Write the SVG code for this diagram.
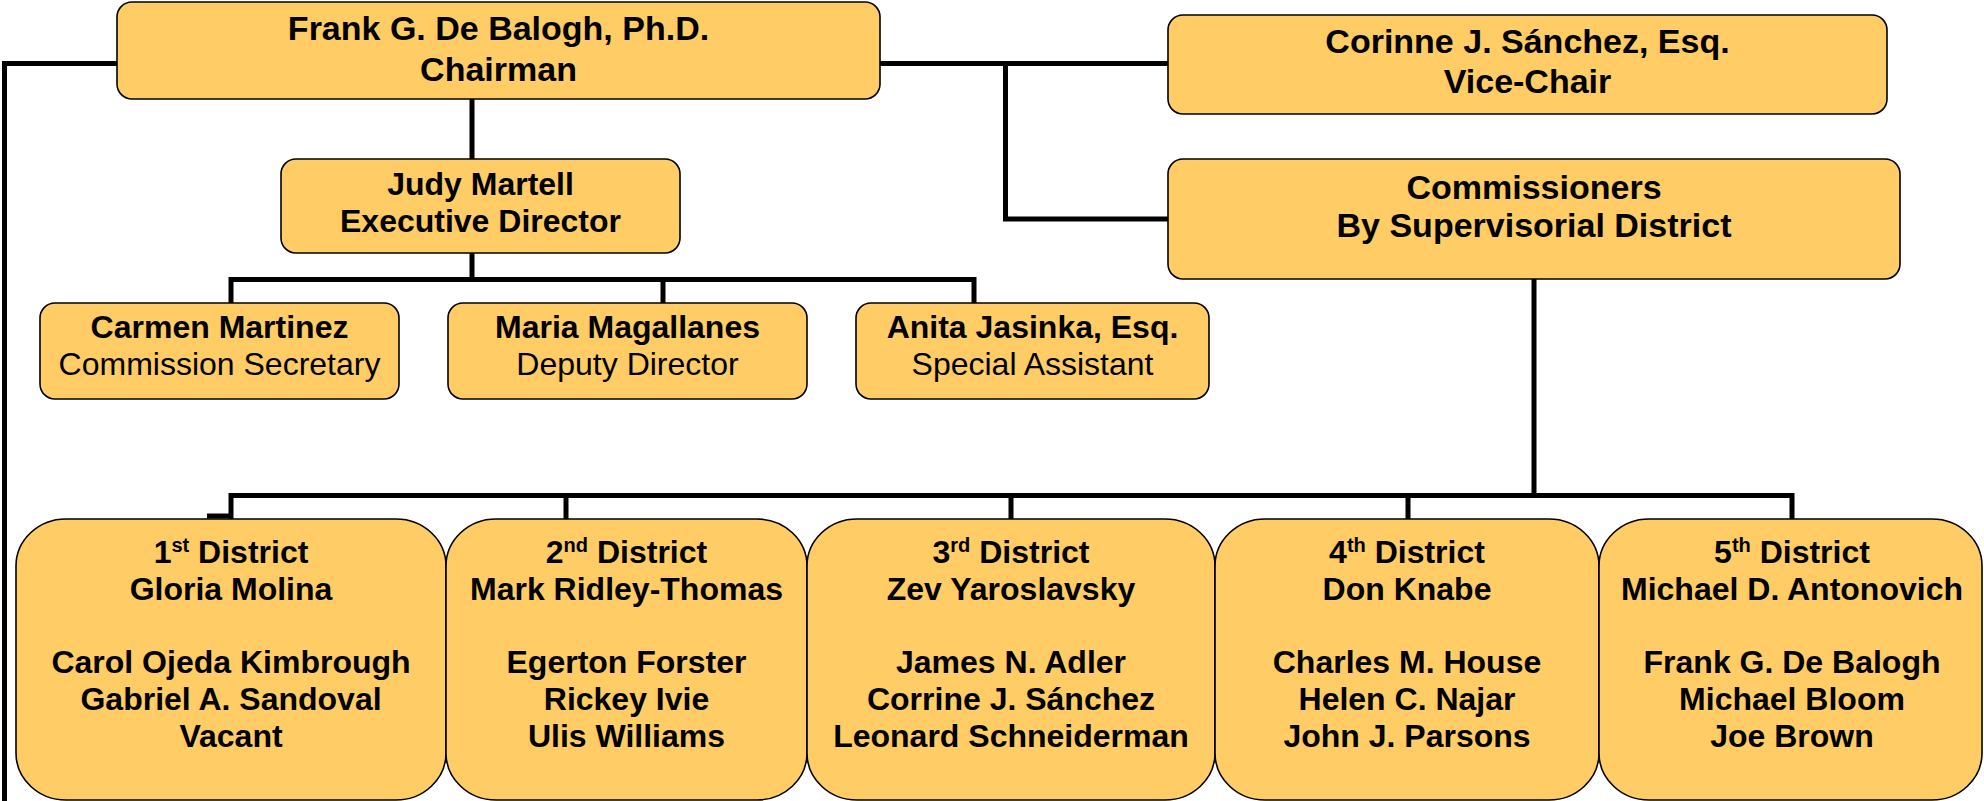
<svg xmlns="http://www.w3.org/2000/svg" width="1984" height="801" viewBox="0 0 1984 801">
<style>
.box{fill:#FFCC66;stroke:#000;stroke-width:1.6}
.t{font-family:"Liberation Sans",Arial,sans-serif;font-weight:bold;text-anchor:middle;fill:#000}
.big{font-size:34px}
.mid{font-size:32px}
.reg{font-weight:normal}
.sup{font-size:20px}
.conn{fill:none;stroke:#000;stroke-width:5;stroke-linejoin:miter;stroke-linecap:butt}
</style>
<rect width="1984" height="801" fill="#fff"/>
<g id="connectors" class="conn">
<path d="M117 63.5 H4.5 V801"/>
<path d="M880 63.5 H1168"/>
<path d="M1005.5 63.5 V219 H1168"/>
<path d="M472 99 V159"/>
<path d="M472 253 V279.5"/>
<path d="M231 303 V279.5 H974 V303"/>
<path d="M663 279.5 V303"/>
<path d="M1534 279 V495.5"/>
<path d="M231 519 V495.5 H1792 V519"/>
<path d="M566 495.5 V519"/>
<path d="M1011 495.5 V519"/>
<path d="M1408 495.5 V519"/>
<path d="M207 516 H231"/>
</g>
<g id="chairman">
<rect class="box" x="117" y="2" width="763" height="97" rx="15"/>
<text class="t big" x="498.5" y="40">Frank G. De Balogh, Ph.D.</text>
<text class="t big" x="498.5" y="81">Chairman</text>
</g>
<g id="vicechair">
<rect class="box" x="1168" y="15" width="719" height="99" rx="15"/>
<text class="t big" x="1527.5" y="53">Corinne J. Sánchez, Esq.</text>
<text class="t big" x="1527.5" y="93">Vice-Chair</text>
</g>
<g id="commissioners">
<rect class="box" x="1168" y="159" width="732" height="120" rx="15"/>
<text class="t big" x="1534" y="199">Commissioners</text>
<text class="t big" x="1534" y="237">By Supervisorial District</text>
</g>
<g id="executive-director">
<rect class="box" x="281" y="159" width="399" height="94" rx="15"/>
<text class="t mid" x="480.5" y="195">Judy Martell</text>
<text class="t mid" x="480.5" y="232">Executive Director</text>
</g>
<g id="secretary">
<rect class="box" x="40" y="303" width="359" height="96" rx="15"/>
<text class="t mid" x="219.5" y="338">Carmen Martinez</text>
<text class="t mid reg" x="219.5" y="375">Commission Secretary</text>
</g>
<g id="deputy">
<rect class="box" x="448" y="303" width="359" height="96" rx="15"/>
<text class="t mid" x="627.5" y="338">Maria Magallanes</text>
<text class="t mid reg" x="627.5" y="375">Deputy Director</text>
</g>
<g id="assistant">
<rect class="box" x="856" y="303" width="353" height="96" rx="15"/>
<text class="t mid" x="1032.5" y="338">Anita Jasinka, Esq.</text>
<text class="t mid reg" x="1032.5" y="375">Special Assistant</text>
</g>
<g id="district1">
<rect class="box" x="16" y="519" width="430" height="281" rx="50" ry="47"/>
<text class="t mid" x="231" y="563">1<tspan class="sup" dy="-11">st</tspan><tspan dy="11"> District</tspan></text>
<text class="t mid" x="231" y="600">Gloria Molina</text>
<text class="t mid" x="231" y="673">Carol Ojeda Kimbrough</text>
<text class="t mid" x="231" y="710">Gabriel A. Sandoval</text>
<text class="t mid" x="231" y="747">Vacant</text>
</g>
<g id="district2">
<rect class="box" x="446" y="519" width="361" height="281" rx="50" ry="47"/>
<text class="t mid" x="626.5" y="563">2<tspan class="sup" dy="-11">nd</tspan><tspan dy="11"> District</tspan></text>
<text class="t mid" x="626.5" y="600">Mark Ridley-Thomas</text>
<text class="t mid" x="626.5" y="673">Egerton Forster</text>
<text class="t mid" x="626.5" y="710">Rickey Ivie</text>
<text class="t mid" x="626.5" y="747">Ulis Williams</text>
</g>
<g id="district3">
<rect class="box" x="807" y="519" width="408" height="281" rx="50" ry="47"/>
<text class="t mid" x="1011" y="563">3<tspan class="sup" dy="-11">rd</tspan><tspan dy="11"> District</tspan></text>
<text class="t mid" x="1011" y="600">Zev Yaroslavsky</text>
<text class="t mid" x="1011" y="673">James N. Adler</text>
<text class="t mid" x="1011" y="710">Corrine J. Sánchez</text>
<text class="t mid" x="1011" y="747">Leonard Schneiderman</text>
</g>
<g id="district4">
<rect class="box" x="1215" y="519" width="384" height="281" rx="50" ry="47"/>
<text class="t mid" x="1407" y="563">4<tspan class="sup" dy="-11">th</tspan><tspan dy="11"> District</tspan></text>
<text class="t mid" x="1407" y="600">Don Knabe</text>
<text class="t mid" x="1407" y="673">Charles M. House</text>
<text class="t mid" x="1407" y="710">Helen C. Najar</text>
<text class="t mid" x="1407" y="747">John J. Parsons</text>
</g>
<g id="district5">
<rect class="box" x="1599" y="519" width="383" height="281" rx="50" ry="47"/>
<text class="t mid" x="1792" y="563">5<tspan class="sup" dy="-11">th</tspan><tspan dy="11"> District</tspan></text>
<text class="t mid" x="1792" y="600">Michael D. Antonovich</text>
<text class="t mid" x="1792" y="673">Frank G. De Balogh</text>
<text class="t mid" x="1792" y="710">Michael Bloom</text>
<text class="t mid" x="1792" y="747">Joe Brown</text>
</g>
</svg>
